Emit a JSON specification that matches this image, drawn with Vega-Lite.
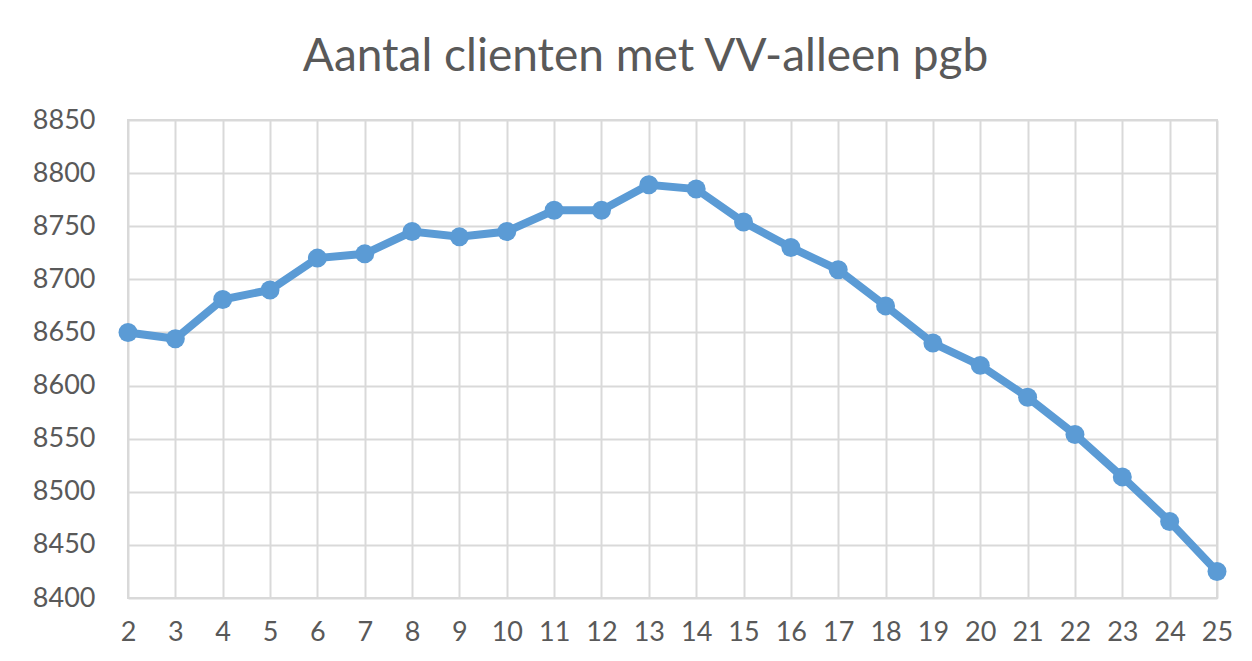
{
  "$schema": "https://vega.github.io/schema/vega-lite/v6.json",
  "autosize": "none",
  "width": 1089,
  "height": 478,
  "padding": {"left": 128, "top": 120, "right": 35, "bottom": 63},
  "background": "white",
  "title": {
    "text": "Aantal clienten met VV-alleen pgb",
    "font": "Lato",
    "fontSize": 46,
    "fontWeight": "normal",
    "color": "#595959",
    "anchor": "middle",
    "frame": "group",
    "baseline": "alphabetic",
    "offset": 42,
    "dy": 53,
    "dx": -27
  },
  "data": {
    "values": [
      {"week": 2, "clienten": 8650},
      {"week": 3, "clienten": 8644},
      {"week": 4, "clienten": 8681},
      {"week": 5, "clienten": 8690},
      {"week": 6, "clienten": 8720},
      {"week": 7, "clienten": 8724},
      {"week": 8, "clienten": 8745},
      {"week": 9, "clienten": 8740},
      {"week": 10, "clienten": 8745},
      {"week": 11, "clienten": 8765},
      {"week": 12, "clienten": 8765},
      {"week": 13, "clienten": 8789},
      {"week": 14, "clienten": 8785},
      {"week": 15, "clienten": 8754},
      {"week": 16, "clienten": 8730},
      {"week": 17, "clienten": 8709},
      {"week": 18, "clienten": 8675},
      {"week": 19, "clienten": 8640},
      {"week": 20, "clienten": 8619},
      {"week": 21, "clienten": 8589},
      {"week": 22, "clienten": 8554},
      {"week": 23, "clienten": 8514},
      {"week": 24, "clienten": 8472},
      {"week": 25, "clienten": 8425}
    ]
  },
  "mark": {
    "type": "line",
    "color": "#5B9BD5",
    "strokeWidth": 8,
    "point": {"filled": true, "color": "#5B9BD5", "size": 360, "opacity": 1}
  },
  "encoding": {
    "x": {
      "field": "week",
      "type": "ordinal",
      "scale": {"type": "point", "padding": 0},
      "axis": {
        "title": null,
        "labelAngle": 0,
        "domain": false,
        "ticks": false,
        "grid": true,
        "gridColor": "#d9d9d9",
        "gridWidth": 2,
        "labelFont": "Lato",
        "labelFontSize": 27,
        "labelColor": "#595959",
        "labelPadding": 21
      }
    },
    "y": {
      "field": "clienten",
      "type": "quantitative",
      "scale": {"domain": [8400, 8850], "nice": false, "zero": false},
      "axis": {
        "title": null,
        "values": [8400, 8450, 8500, 8550, 8600, 8650, 8700, 8750, 8800, 8850],
        "format": "d",
        "domain": false,
        "ticks": false,
        "grid": true,
        "gridColor": "#d9d9d9",
        "gridWidth": 2,
        "labelFont": "Lato",
        "labelFontSize": 27,
        "labelColor": "#595959",
        "labelPadding": 33
      }
    }
  },
  "config": {
    "view": {"stroke": "#d9d9d9", "strokeWidth": 2}
  }
}
